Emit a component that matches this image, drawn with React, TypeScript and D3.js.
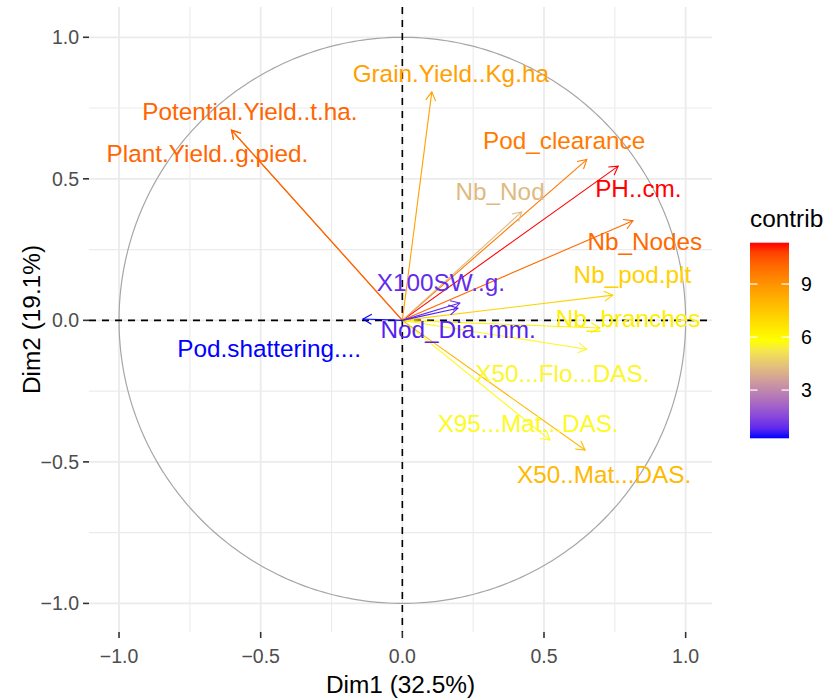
import React from "react";
import * as d3 from "d3";

// Variables (PCA correlation circle)
const varNames = [
  "Potential.Yield..t.ha.",
  "Plant.Yield..g.pied.",
  "Grain.Yield..Kg.ha",
  "Pod_clearance",
  "PH..cm.",
  "Nb_Nod",
  "Nb_Nodes",
  "Nb_pod.plt",
  "Nb_branches",
  "X50...Flo...DAS.",
  "X95...Mat...DAS.",
  "X50..Mat...DAS.",
  "X100SW..g.",
  "Nod_Dia..mm.",
  "Pod.shattering....",
];
const dim1 = [-0.603, -0.603, 0.104, 0.651, 0.762, 0.421, 0.814, 0.743, 0.697, 0.651, 0.521, 0.645, 0.203, 0.196, -0.139];
const dim2 = [0.672, 0.672, 0.807, 0.568, 0.545, 0.383, 0.352, 0.089, -0.027, -0.102, -0.423, -0.458, 0.061, 0.043, 0.005];
const contrib = [10.1, 10.1, 8.6, 9.6, 11.34, 4.2, 10.0, 7.2, 6.3, 5.6, 5.7, 7.9, 0.9, 0.7, 0.27];
// label anchor positions (data units)
const labelX = [-0.538, -0.688, 0.171, 0.571, 0.833, 0.345, 0.856, 0.812, 0.797, 0.565, 0.444, 0.712, 0.136, 0.197, -0.47];
const labelY = [0.738, 0.59, 0.873, 0.634, 0.467, 0.455, 0.279, 0.161, 0.008, -0.186, -0.363, -0.545, 0.135, -0.033, -0.098];

const majorTicks = [-1.0, -0.5, 0.0, 0.5, 1.0];
const minorTicks = [-0.75, -0.25, 0.25, 0.75];
const legendTicks = [3, 6, 9];
const contribRange = [0.27, 11.34];
const gradientCols = ["blue", "yellow", "red"];

const FONT = "'Liberation Sans', Arial, Helvetica, sans-serif";

export default function App() {
  const xs = d3.scaleLinear().domain([-1.106, 1.093]).range([89, 712]);
  const ys = d3.scaleLinear().domain([-1.101, 1.107]).range([632, 7]);
  const [cmin, cmax] = contribRange;
  const col = d3
    .scaleLinear<string>()
    .domain([cmin, (cmin + cmax) / 2, cmax])
    .range(gradientCols)
    .interpolate(d3.interpolateLab);

  const [px0, px1] = xs.range();
  const [py1, py0] = ys.range();

  const circle = d3
    .line<number>()
    .x((a) => xs(Math.cos(a)))
    .y((a) => ys(Math.sin(a)));
  const angles = d3.range(0, 361).map((d) => (d * Math.PI) / 180);

  const headLen = 10;
  const headAng = Math.PI / 6;

  const legY = d3.scaleLinear().domain([cmin, cmax]).range([438.3, 242.7]);
  const legX0 = 750;
  const legW = 39;
  const stops = d3.range(0, 21).map((i) => cmin + ((cmax - cmin) * i) / 20);

  const fmt = d3.format(".1f");

  return (
    <svg
      width={828}
      height={700}
      style={{ position: "absolute", left: 0, top: 0, background: "#fff" }}
      fontFamily={FONT}
    >
      <defs>
        <linearGradient id="lg" x1="0" y1="1" x2="0" y2="0">
          {stops.map((s, i) => (
            <stop key={i} offset={`${(i / 20) * 100}%`} stopColor={col(s)} />
          ))}
        </linearGradient>
        <clipPath id="panel">
          <rect x={px0} y={py0} width={px1 - px0} height={py1 - py0} />
        </clipPath>
      </defs>
      <rect width={828} height={700} fill="#fff" />
      {/* grid */}
      <g>
        {minorTicks.map((t) => (
          <g key={"m" + t}>
            <line x1={xs(t)} x2={xs(t)} y1={py0} y2={py1} stroke="#EBEBEB" strokeWidth={1.1} />
            <line x1={px0} x2={px1} y1={ys(t)} y2={ys(t)} stroke="#EBEBEB" strokeWidth={1.1} />
          </g>
        ))}
        {majorTicks.map((t) => (
          <g key={"M" + t}>
            <line x1={xs(t)} x2={xs(t)} y1={py0} y2={py1} stroke="#EBEBEB" strokeWidth={1.8} />
            <line x1={px0} x2={px1} y1={ys(t)} y2={ys(t)} stroke="#EBEBEB" strokeWidth={1.8} />
          </g>
        ))}
      </g>
      {/* circle */}
      <path d={circle(angles) || ""} fill="none" stroke="#A6A6A6" strokeWidth={1.2} />
      {/* dashed axes */}
      <line x1={xs(0)} x2={xs(0)} y1={py0} y2={py1} stroke="#000" strokeWidth={1.6} strokeDasharray="7 6" />
      <line x1={px0} x2={px1} y1={ys(0)} y2={ys(0)} stroke="#000" strokeWidth={1.6} strokeDasharray="7 6" />
      {/* arrows */}
      <g clipPath="url(#panel)">
        {varNames.map((n, i) => {
          const x0 = xs(0), y0 = ys(0);
          const x1 = xs(dim1[i]), y1 = ys(dim2[i]);
          const a = Math.atan2(y1 - y0, x1 - x0);
          const hx1 = x1 - headLen * Math.cos(a - headAng);
          const hy1 = y1 - headLen * Math.sin(a - headAng);
          const hx2 = x1 - headLen * Math.cos(a + headAng);
          const hy2 = y1 - headLen * Math.sin(a + headAng);
          const c = col(contrib[i]);
          return (
            <g key={n} stroke={c} fill="none" strokeWidth={1.1}>
              <line x1={x0} y1={y0} x2={x1} y2={y1} />
              <path d={`M${hx1},${hy1}L${x1},${y1}L${hx2},${hy2}`} />
            </g>
          );
        })}
        {varNames.map((n, i) => (
          <text
            key={"t" + n}
            x={xs(labelX[i])}
            y={ys(labelY[i])}
            dy="0.35em"
            textAnchor="middle"
            fontSize={24.3}
            fill={col(contrib[i])}
          >
            {n}
          </text>
        ))}
      </g>
      {/* axes ticks */}
      {majorTicks.map((t) => (
        <g key={"ax" + t}>
          <line x1={xs(t)} x2={xs(t)} y1={py1} y2={py1 + 6} stroke="#333" strokeWidth={1.6} />
          <text x={xs(t)} y={663} textAnchor="middle" fontSize={19.5} fill="#4D4D4D">
            {fmt(t)}
          </text>
          <line x1={px0 - 6} x2={px0} y1={ys(t)} y2={ys(t)} stroke="#333" strokeWidth={1.6} />
          <text x={79} y={ys(t)} dy="0.35em" textAnchor="end" fontSize={19.5} fill="#4D4D4D">
            {fmt(t)}
          </text>
        </g>
      ))}
      <text x={(px0 + px1) / 2} y={693} textAnchor="middle" fontSize={24.4} fill="#000">
        Dim1 (32.5%)
      </text>
      <text
        transform={`translate(40,${(py0 + py1) / 2}) rotate(-90)`}
        textAnchor="middle"
        fontSize={24.4}
        fill="#000"
      >
        Dim2 (19.1%)
      </text>
      {/* legend */}
      <text x={legX0} y={227} fontSize={24.4} fill="#000">
        contrib
      </text>
      <rect x={legX0} y={legY(cmax)} width={legW} height={legY(cmin) - legY(cmax)} fill="url(#lg)" />
      {legendTicks.map((t) => (
        <g key={"lt" + t}>
          <line x1={legX0} x2={legX0 + 7.5} y1={legY(t)} y2={legY(t)} stroke="#fff" strokeWidth={1.2} />
          <line x1={legX0 + legW - 7.5} x2={legX0 + legW} y1={legY(t)} y2={legY(t)} stroke="#fff" strokeWidth={1.2} />
          <text x={legX0 + legW + 12} y={legY(t)} dy="0.35em" fontSize={19.5} fill="#000">
            {t}
          </text>
        </g>
      ))}
    </svg>
  );
}
